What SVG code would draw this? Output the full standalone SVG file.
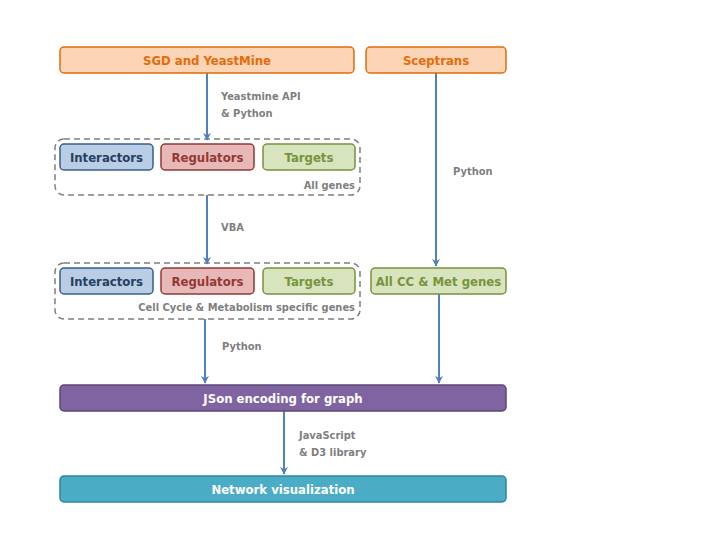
<svg xmlns="http://www.w3.org/2000/svg" width="720" height="540" viewBox="0 0 720 540">
<defs>
<marker id="ah" viewBox="0 0 10 10" refX="9" refY="5" markerWidth="4" markerHeight="4" orient="auto" markerUnits="strokeWidth">
<path d="M0,0 L10,5 L0,10 L3,5 z" fill="#4F81BD"/>
</marker>
<style>
text{font-family:"DejaVu Sans Condensed","Liberation Sans",sans-serif;font-weight:bold;}
.t{font-size:13px;text-anchor:middle;}
.l{font-size:11px;fill:#7F7F7F;}
.c{stroke:#4F81BD;stroke-width:2;fill:none;marker-end:url(#ah);}
.grp{fill:none;stroke:#7F7F7F;stroke-width:1.5;stroke-dasharray:6,4;}
.or{fill:#FBD5B5;stroke:#E46C0A;stroke-width:1.5;}
.bl{fill:#B9CDE5;stroke:#385D8A;stroke-width:1.5;}
.rd{fill:#E6B9B8;stroke:#953735;stroke-width:1.5;}
.gr{fill:#D7E4BD;stroke:#77933C;stroke-width:1.5;}
.pu{fill:#8064A2;stroke:#5C4776;stroke-width:1.5;}
.cy{fill:#4BACC6;stroke:#31859C;stroke-width:1.5;}
</style>
</defs>
<rect width="720" height="540" fill="#fff"/>
<g id="connectors">
<line class="c" x1="207" y1="73" x2="207" y2="140"/>
<line class="c" x1="207" y1="195" x2="207" y2="264"/>
<line class="c" x1="436" y1="73" x2="436" y2="266"/>
<line class="c" x1="205" y1="319" x2="205" y2="383"/>
<line class="c" x1="439" y1="294" x2="439" y2="383"/>
<line class="c" x1="284" y1="411" x2="284" y2="474"/>
<text class="l" x="221" y="100">Yeastmine API</text>
<text class="l" x="221" y="117">&amp; Python</text>
<text class="l" x="221" y="231">VBA</text>
<text class="l" x="453" y="175">Python</text>
<text class="l" x="222" y="350">Python</text>
<text class="l" x="299" y="439">JavaScript</text>
<text class="l" x="299" y="456">&amp; D3 library</text>
</g>
<g id="group-all">
<rect class="grp" x="55" y="139" width="305" height="56" rx="9"/>
<text class="l" x="355" y="189" text-anchor="end">All genes</text>
</g>
<g id="group-cc">
<rect class="grp" x="55" y="263" width="305" height="56" rx="9"/>
<text class="l" x="355" y="311" text-anchor="end">Cell Cycle &amp; Metabolism specific genes</text>
</g>
<g id="sgd"><rect class="or" x="60" y="47" width="294" height="26" rx="4"/><text class="t" x="207" y="65" fill="#E46C0A">SGD and YeastMine</text></g>
<g id="sceptrans"><rect class="or" x="366" y="47" width="140" height="26" rx="4"/><text class="t" x="436" y="65" fill="#E46C0A">Sceptrans</text></g>
<g id="interactors1"><rect class="bl" x="60" y="144" width="93" height="26" rx="4"/><text class="t" x="106.5" y="162" fill="#254061">Interactors</text></g>
<g id="regulators1"><rect class="rd" x="161" y="144" width="93" height="26" rx="4"/><text class="t" x="207.5" y="162" fill="#953735">Regulators</text></g>
<g id="targets1"><rect class="gr" x="263" y="144" width="92" height="26" rx="4"/><text class="t" x="309" y="162" fill="#77933C">Targets</text></g>
<g id="interactors2"><rect class="bl" x="60" y="268" width="93" height="26" rx="4"/><text class="t" x="106.5" y="286" fill="#254061">Interactors</text></g>
<g id="regulators2"><rect class="rd" x="161" y="268" width="93" height="26" rx="4"/><text class="t" x="207.5" y="286" fill="#953735">Regulators</text></g>
<g id="targets2"><rect class="gr" x="263" y="268" width="92" height="26" rx="4"/><text class="t" x="309" y="286" fill="#77933C">Targets</text></g>
<g id="allcc"><rect class="gr" x="371" y="268" width="135" height="26" rx="4"/><text class="t" x="438.5" y="286" fill="#77933C">All CC &amp; Met genes</text></g>
<g id="json"><rect class="pu" x="60" y="385" width="446" height="26" rx="4"/><text class="t" x="283" y="403" fill="#fff">JSon encoding for graph</text></g>
<g id="netvis"><rect class="cy" x="60" y="476" width="446" height="26" rx="4"/><text class="t" x="283" y="494" fill="#fff">Network visualization</text></g>
</svg>
